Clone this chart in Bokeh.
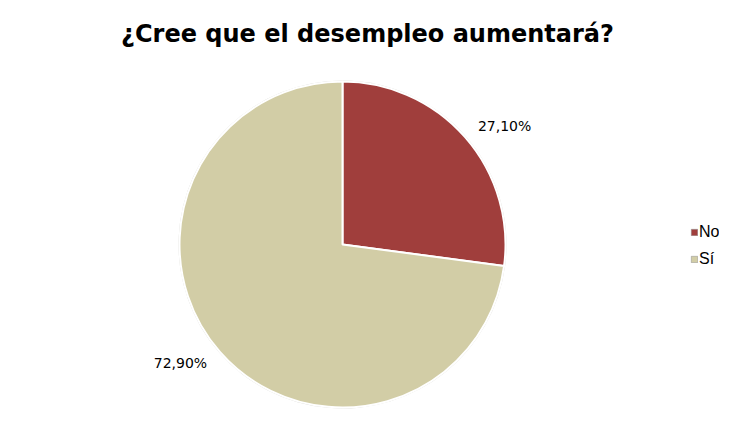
import math
from bokeh.plotting import figure
from bokeh.models import Range1d, ColumnDataSource, Legend, LegendItem
from bokeh.core.properties import value
from bokeh.embed import file_html
from bokeh.resources import INLINE

title = "¿Cree que el desempleo aumentará?"
categories = ["No", "Sí"]
values = [27.10, 72.90]
labels = ["27,10%", "72,90%"]
colors = ["#A03E3C", "#D2CDA6"]

W, H = 719, 432
p = figure(width=W, height=H, output_backend="svg", toolbar_location=None,
           x_range=Range1d(0, W), y_range=Range1d(0, H), min_border=0)
p.axis.visible = False
p.grid.visible = False
p.outline_line_color = None
p.background_fill_color = "white"

cx, cy, r = 342, 188, 163
total = sum(values)
starts, ends, lx, ly, aligns = [], [], [], [], []
cum = 0.0
for v in values:
    a0 = math.pi / 2 - 2 * math.pi * cum / total
    a1 = math.pi / 2 - 2 * math.pi * (cum + v) / total
    starts.append(a1)
    ends.append(a0)
    mid = (a0 + a1) / 2
    lx.append(cx + 180 * math.cos(mid))
    ly.append(cy + 180 * math.sin(mid))
    aligns.append("left" if math.cos(mid) > 0 else "right")
    cum += v

src = ColumnDataSource(dict(cat=categories, start=starts, end=ends, color=colors,
                            lx=lx, ly=ly, lab=labels, align=aligns,
                            nx=[float("nan")] * len(categories),
                            ny=[float("nan")] * len(categories)))
p.wedge(x=cx, y=cy, radius=r + 1, start_angle="start", end_angle="end",
        fill_color="#8a8a7a", fill_alpha=0.35, line_color=None, source=src)
p.wedge(x=cx, y=cy, radius=r, start_angle="start", end_angle="end",
        fill_color="color", line_color="#ffffff", line_width=2, source=src)
p.text(x="lx", y="ly", text="lab", source=src, text_align="align",
       text_baseline="middle", text_font_size="14px", text_color="#000000",
       text_font=value("DejaVu Sans"))

p.text(x=[367], y=[H - 33], text=[title], text_align="center",
       text_baseline="alphabetic", text_font_size="24px", text_font_style="bold",
       text_color="#000000", text_font=value("DejaVu Sans"))

# legend swatches (square areas, not drawn in the plot area)
sw = p.rect(x="nx", y="ny", width=1, height=1, fill_color="color",
            line_color="#8a8a8a", line_width=0.5, source=src)

items = [LegendItem(label=c, renderers=[sw], index=i) for i, c in enumerate(categories)]
legend = Legend(items=items, location=(690, 163), label_text_font="Liberation Sans",
                label_text_font_size="16px", label_text_color="#000000",
                glyph_width=8, glyph_height=8,
                label_height=20, spacing=7, padding=0, margin=0,
                border_line_color=None, background_fill_alpha=0, label_standoff=1)
p.add_layout(legend, "center")

open("out.html", "w").write(file_html(p, INLINE))
